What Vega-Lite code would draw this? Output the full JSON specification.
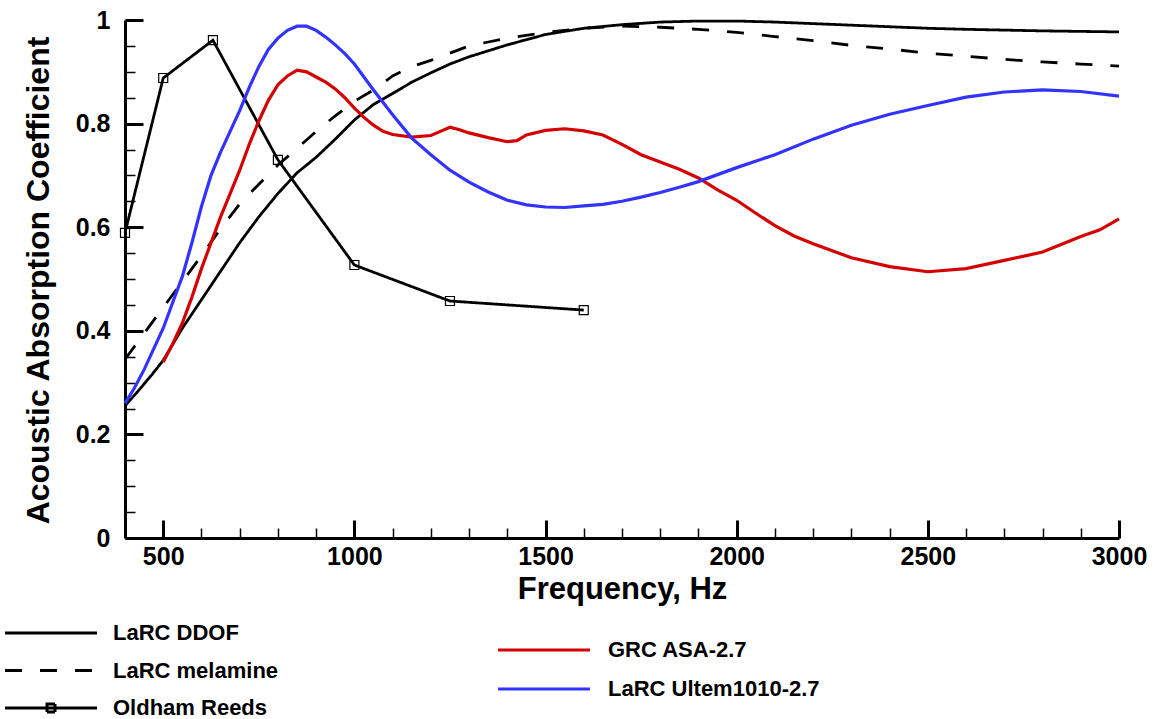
{
  "$schema": "https://vega.github.io/schema/vega-lite/v6.json",
  "width": 994,
  "height": 518,
  "autosize": {"type": "none"},
  "padding": {"left": 125, "top": 20, "right": 43, "bottom": 181},
  "background": "white",
  "config": {
    "view": {"stroke": null},
    "font": "Liberation Sans",
    "legend": {
      "orient": "none",
      "direction": "vertical",
      "padding": 0,
      "symbolSize": 4,
      "symbolStrokeWidth": 3,
      "labelFont": "Liberation Sans",
      "labelFontSize": 22,
      "labelFontWeight": "bold",
      "labelColor": "black",
      "labelLimit": 400
    }
  },
  "data": {
    "values": [
      {"series": "LaRC DDOF", "freq": 400, "alpha": 0.255},
      {"series": "LaRC DDOF", "freq": 430, "alpha": 0.28},
      {"series": "LaRC DDOF", "freq": 470, "alpha": 0.315},
      {"series": "LaRC DDOF", "freq": 500, "alpha": 0.343},
      {"series": "LaRC DDOF", "freq": 550, "alpha": 0.405},
      {"series": "LaRC DDOF", "freq": 600, "alpha": 0.46},
      {"series": "LaRC DDOF", "freq": 650, "alpha": 0.515},
      {"series": "LaRC DDOF", "freq": 700, "alpha": 0.57},
      {"series": "LaRC DDOF", "freq": 750, "alpha": 0.62},
      {"series": "LaRC DDOF", "freq": 800, "alpha": 0.665},
      {"series": "LaRC DDOF", "freq": 850, "alpha": 0.705},
      {"series": "LaRC DDOF", "freq": 900, "alpha": 0.735},
      {"series": "LaRC DDOF", "freq": 950, "alpha": 0.77},
      {"series": "LaRC DDOF", "freq": 1000, "alpha": 0.807},
      {"series": "LaRC DDOF", "freq": 1050, "alpha": 0.837},
      {"series": "LaRC DDOF", "freq": 1100, "alpha": 0.858},
      {"series": "LaRC DDOF", "freq": 1150, "alpha": 0.88},
      {"series": "LaRC DDOF", "freq": 1200, "alpha": 0.898},
      {"series": "LaRC DDOF", "freq": 1250, "alpha": 0.915},
      {"series": "LaRC DDOF", "freq": 1300, "alpha": 0.929},
      {"series": "LaRC DDOF", "freq": 1400, "alpha": 0.952},
      {"series": "LaRC DDOF", "freq": 1500, "alpha": 0.972},
      {"series": "LaRC DDOF", "freq": 1600, "alpha": 0.984},
      {"series": "LaRC DDOF", "freq": 1700, "alpha": 0.991},
      {"series": "LaRC DDOF", "freq": 1800, "alpha": 0.996},
      {"series": "LaRC DDOF", "freq": 1900, "alpha": 0.998},
      {"series": "LaRC DDOF", "freq": 2000, "alpha": 0.998},
      {"series": "LaRC DDOF", "freq": 2100, "alpha": 0.996},
      {"series": "LaRC DDOF", "freq": 2200, "alpha": 0.993},
      {"series": "LaRC DDOF", "freq": 2300, "alpha": 0.99},
      {"series": "LaRC DDOF", "freq": 2400, "alpha": 0.987},
      {"series": "LaRC DDOF", "freq": 2500, "alpha": 0.984},
      {"series": "LaRC DDOF", "freq": 2600, "alpha": 0.982},
      {"series": "LaRC DDOF", "freq": 2800, "alpha": 0.979},
      {"series": "LaRC DDOF", "freq": 3000, "alpha": 0.977},
      {"series": "LaRC melamine", "freq": 400, "alpha": 0.345},
      {"series": "LaRC melamine", "freq": 450, "alpha": 0.395},
      {"series": "LaRC melamine", "freq": 500, "alpha": 0.445},
      {"series": "LaRC melamine", "freq": 550, "alpha": 0.495},
      {"series": "LaRC melamine", "freq": 600, "alpha": 0.545},
      {"series": "LaRC melamine", "freq": 650, "alpha": 0.597},
      {"series": "LaRC melamine", "freq": 700, "alpha": 0.645},
      {"series": "LaRC melamine", "freq": 750, "alpha": 0.683},
      {"series": "LaRC melamine", "freq": 800, "alpha": 0.72},
      {"series": "LaRC melamine", "freq": 850, "alpha": 0.752},
      {"series": "LaRC melamine", "freq": 900, "alpha": 0.785},
      {"series": "LaRC melamine", "freq": 950, "alpha": 0.815},
      {"series": "LaRC melamine", "freq": 1000, "alpha": 0.843},
      {"series": "LaRC melamine", "freq": 1050, "alpha": 0.865},
      {"series": "LaRC melamine", "freq": 1100, "alpha": 0.892},
      {"series": "LaRC melamine", "freq": 1150, "alpha": 0.91},
      {"series": "LaRC melamine", "freq": 1200, "alpha": 0.922},
      {"series": "LaRC melamine", "freq": 1300, "alpha": 0.95},
      {"series": "LaRC melamine", "freq": 1400, "alpha": 0.965},
      {"series": "LaRC melamine", "freq": 1500, "alpha": 0.976},
      {"series": "LaRC melamine", "freq": 1600, "alpha": 0.984},
      {"series": "LaRC melamine", "freq": 1700, "alpha": 0.988},
      {"series": "LaRC melamine", "freq": 1800, "alpha": 0.986},
      {"series": "LaRC melamine", "freq": 1900, "alpha": 0.982},
      {"series": "LaRC melamine", "freq": 2000, "alpha": 0.976},
      {"series": "LaRC melamine", "freq": 2100, "alpha": 0.968},
      {"series": "LaRC melamine", "freq": 2200, "alpha": 0.96},
      {"series": "LaRC melamine", "freq": 2300, "alpha": 0.951},
      {"series": "LaRC melamine", "freq": 2400, "alpha": 0.944},
      {"series": "LaRC melamine", "freq": 2500, "alpha": 0.936},
      {"series": "LaRC melamine", "freq": 2600, "alpha": 0.93},
      {"series": "LaRC melamine", "freq": 2700, "alpha": 0.924},
      {"series": "LaRC melamine", "freq": 2800, "alpha": 0.919},
      {"series": "LaRC melamine", "freq": 2900, "alpha": 0.915},
      {"series": "LaRC melamine", "freq": 3000, "alpha": 0.911},
      {"series": "Oldham Reeds", "freq": 400, "alpha": 0.589},
      {"series": "Oldham Reeds", "freq": 500, "alpha": 0.888},
      {"series": "Oldham Reeds", "freq": 630, "alpha": 0.961},
      {"series": "Oldham Reeds", "freq": 800, "alpha": 0.73},
      {"series": "Oldham Reeds", "freq": 1000, "alpha": 0.527},
      {"series": "Oldham Reeds", "freq": 1250, "alpha": 0.4575},
      {"series": "Oldham Reeds", "freq": 1600, "alpha": 0.44},
      {"series": "GRC ASA-2.7", "freq": 500, "alpha": 0.34},
      {"series": "GRC ASA-2.7", "freq": 525, "alpha": 0.375},
      {"series": "GRC ASA-2.7", "freq": 550, "alpha": 0.415},
      {"series": "GRC ASA-2.7", "freq": 575, "alpha": 0.465},
      {"series": "GRC ASA-2.7", "freq": 600, "alpha": 0.52},
      {"series": "GRC ASA-2.7", "freq": 625, "alpha": 0.57},
      {"series": "GRC ASA-2.7", "freq": 650, "alpha": 0.62},
      {"series": "GRC ASA-2.7", "freq": 675, "alpha": 0.665},
      {"series": "GRC ASA-2.7", "freq": 700, "alpha": 0.71},
      {"series": "GRC ASA-2.7", "freq": 725, "alpha": 0.76},
      {"series": "GRC ASA-2.7", "freq": 750, "alpha": 0.805},
      {"series": "GRC ASA-2.7", "freq": 775, "alpha": 0.845},
      {"series": "GRC ASA-2.7", "freq": 800, "alpha": 0.875},
      {"series": "GRC ASA-2.7", "freq": 825, "alpha": 0.892},
      {"series": "GRC ASA-2.7", "freq": 850, "alpha": 0.903},
      {"series": "GRC ASA-2.7", "freq": 875, "alpha": 0.9},
      {"series": "GRC ASA-2.7", "freq": 900, "alpha": 0.89},
      {"series": "GRC ASA-2.7", "freq": 925, "alpha": 0.88},
      {"series": "GRC ASA-2.7", "freq": 950, "alpha": 0.867},
      {"series": "GRC ASA-2.7", "freq": 975, "alpha": 0.85},
      {"series": "GRC ASA-2.7", "freq": 1000, "alpha": 0.83},
      {"series": "GRC ASA-2.7", "freq": 1025, "alpha": 0.812},
      {"series": "GRC ASA-2.7", "freq": 1050, "alpha": 0.797},
      {"series": "GRC ASA-2.7", "freq": 1075, "alpha": 0.785},
      {"series": "GRC ASA-2.7", "freq": 1100, "alpha": 0.779},
      {"series": "GRC ASA-2.7", "freq": 1150, "alpha": 0.774},
      {"series": "GRC ASA-2.7", "freq": 1200, "alpha": 0.777},
      {"series": "GRC ASA-2.7", "freq": 1225, "alpha": 0.785},
      {"series": "GRC ASA-2.7", "freq": 1250, "alpha": 0.793},
      {"series": "GRC ASA-2.7", "freq": 1275, "alpha": 0.788},
      {"series": "GRC ASA-2.7", "freq": 1300, "alpha": 0.782},
      {"series": "GRC ASA-2.7", "freq": 1350, "alpha": 0.773},
      {"series": "GRC ASA-2.7", "freq": 1400, "alpha": 0.765},
      {"series": "GRC ASA-2.7", "freq": 1425, "alpha": 0.767},
      {"series": "GRC ASA-2.7", "freq": 1450, "alpha": 0.778},
      {"series": "GRC ASA-2.7", "freq": 1500, "alpha": 0.787},
      {"series": "GRC ASA-2.7", "freq": 1550, "alpha": 0.79},
      {"series": "GRC ASA-2.7", "freq": 1600, "alpha": 0.786},
      {"series": "GRC ASA-2.7", "freq": 1650, "alpha": 0.778},
      {"series": "GRC ASA-2.7", "freq": 1700, "alpha": 0.76},
      {"series": "GRC ASA-2.7", "freq": 1750, "alpha": 0.74},
      {"series": "GRC ASA-2.7", "freq": 1800, "alpha": 0.726},
      {"series": "GRC ASA-2.7", "freq": 1850, "alpha": 0.712},
      {"series": "GRC ASA-2.7", "freq": 1900, "alpha": 0.695},
      {"series": "GRC ASA-2.7", "freq": 1950, "alpha": 0.672},
      {"series": "GRC ASA-2.7", "freq": 2000, "alpha": 0.652},
      {"series": "GRC ASA-2.7", "freq": 2050, "alpha": 0.627},
      {"series": "GRC ASA-2.7", "freq": 2100, "alpha": 0.603},
      {"series": "GRC ASA-2.7", "freq": 2150, "alpha": 0.583},
      {"series": "GRC ASA-2.7", "freq": 2200, "alpha": 0.568},
      {"series": "GRC ASA-2.7", "freq": 2300, "alpha": 0.541},
      {"series": "GRC ASA-2.7", "freq": 2400, "alpha": 0.524},
      {"series": "GRC ASA-2.7", "freq": 2500, "alpha": 0.514},
      {"series": "GRC ASA-2.7", "freq": 2600, "alpha": 0.52},
      {"series": "GRC ASA-2.7", "freq": 2700, "alpha": 0.536},
      {"series": "GRC ASA-2.7", "freq": 2800, "alpha": 0.552},
      {"series": "GRC ASA-2.7", "freq": 2900, "alpha": 0.582},
      {"series": "GRC ASA-2.7", "freq": 2950, "alpha": 0.595},
      {"series": "GRC ASA-2.7", "freq": 3000, "alpha": 0.616},
      {"series": "LaRC Ultem1010-2.7", "freq": 400, "alpha": 0.26},
      {"series": "LaRC Ultem1010-2.7", "freq": 425, "alpha": 0.29},
      {"series": "LaRC Ultem1010-2.7", "freq": 450, "alpha": 0.325},
      {"series": "LaRC Ultem1010-2.7", "freq": 475, "alpha": 0.365},
      {"series": "LaRC Ultem1010-2.7", "freq": 500, "alpha": 0.405},
      {"series": "LaRC Ultem1010-2.7", "freq": 525, "alpha": 0.455},
      {"series": "LaRC Ultem1010-2.7", "freq": 550, "alpha": 0.505},
      {"series": "LaRC Ultem1010-2.7", "freq": 575, "alpha": 0.57},
      {"series": "LaRC Ultem1010-2.7", "freq": 600, "alpha": 0.64},
      {"series": "LaRC Ultem1010-2.7", "freq": 625, "alpha": 0.7},
      {"series": "LaRC Ultem1010-2.7", "freq": 650, "alpha": 0.745},
      {"series": "LaRC Ultem1010-2.7", "freq": 675, "alpha": 0.785},
      {"series": "LaRC Ultem1010-2.7", "freq": 700, "alpha": 0.825},
      {"series": "LaRC Ultem1010-2.7", "freq": 725, "alpha": 0.87},
      {"series": "LaRC Ultem1010-2.7", "freq": 750, "alpha": 0.91},
      {"series": "LaRC Ultem1010-2.7", "freq": 775, "alpha": 0.943},
      {"series": "LaRC Ultem1010-2.7", "freq": 800, "alpha": 0.965},
      {"series": "LaRC Ultem1010-2.7", "freq": 825, "alpha": 0.98},
      {"series": "LaRC Ultem1010-2.7", "freq": 850, "alpha": 0.988},
      {"series": "LaRC Ultem1010-2.7", "freq": 875, "alpha": 0.988},
      {"series": "LaRC Ultem1010-2.7", "freq": 900, "alpha": 0.98},
      {"series": "LaRC Ultem1010-2.7", "freq": 925, "alpha": 0.967},
      {"series": "LaRC Ultem1010-2.7", "freq": 950, "alpha": 0.952},
      {"series": "LaRC Ultem1010-2.7", "freq": 975, "alpha": 0.935},
      {"series": "LaRC Ultem1010-2.7", "freq": 1000, "alpha": 0.915},
      {"series": "LaRC Ultem1010-2.7", "freq": 1050, "alpha": 0.865},
      {"series": "LaRC Ultem1010-2.7", "freq": 1100, "alpha": 0.817},
      {"series": "LaRC Ultem1010-2.7", "freq": 1150, "alpha": 0.772},
      {"series": "LaRC Ultem1010-2.7", "freq": 1200, "alpha": 0.74},
      {"series": "LaRC Ultem1010-2.7", "freq": 1250, "alpha": 0.71},
      {"series": "LaRC Ultem1010-2.7", "freq": 1300, "alpha": 0.687},
      {"series": "LaRC Ultem1010-2.7", "freq": 1350, "alpha": 0.668},
      {"series": "LaRC Ultem1010-2.7", "freq": 1400, "alpha": 0.652},
      {"series": "LaRC Ultem1010-2.7", "freq": 1450, "alpha": 0.643},
      {"series": "LaRC Ultem1010-2.7", "freq": 1500, "alpha": 0.639},
      {"series": "LaRC Ultem1010-2.7", "freq": 1550, "alpha": 0.638},
      {"series": "LaRC Ultem1010-2.7", "freq": 1600, "alpha": 0.641},
      {"series": "LaRC Ultem1010-2.7", "freq": 1650, "alpha": 0.644},
      {"series": "LaRC Ultem1010-2.7", "freq": 1700, "alpha": 0.65},
      {"series": "LaRC Ultem1010-2.7", "freq": 1750, "alpha": 0.658},
      {"series": "LaRC Ultem1010-2.7", "freq": 1800, "alpha": 0.667},
      {"series": "LaRC Ultem1010-2.7", "freq": 1850, "alpha": 0.677},
      {"series": "LaRC Ultem1010-2.7", "freq": 1900, "alpha": 0.688},
      {"series": "LaRC Ultem1010-2.7", "freq": 2000, "alpha": 0.715},
      {"series": "LaRC Ultem1010-2.7", "freq": 2100, "alpha": 0.74},
      {"series": "LaRC Ultem1010-2.7", "freq": 2200, "alpha": 0.77},
      {"series": "LaRC Ultem1010-2.7", "freq": 2300, "alpha": 0.797},
      {"series": "LaRC Ultem1010-2.7", "freq": 2400, "alpha": 0.818},
      {"series": "LaRC Ultem1010-2.7", "freq": 2500, "alpha": 0.835},
      {"series": "LaRC Ultem1010-2.7", "freq": 2600, "alpha": 0.851},
      {"series": "LaRC Ultem1010-2.7", "freq": 2700, "alpha": 0.861},
      {"series": "LaRC Ultem1010-2.7", "freq": 2800, "alpha": 0.865},
      {"series": "LaRC Ultem1010-2.7", "freq": 2900, "alpha": 0.862},
      {"series": "LaRC Ultem1010-2.7", "freq": 3000, "alpha": 0.853}
    ]
  },
  "encoding": {
    "x": {
      "field": "freq",
      "type": "quantitative",
      "scale": {"domain": [400, 3000], "nice": false, "zero": false},
      "axis": {
        "title": "Frequency, Hz",
        "values": [500, 600, 700, 800, 900, 1000, 1100, 1200, 1300, 1400, 1500, 1600, 1700, 1800, 1900, 2000, 2100, 2200, 2300, 2400, 2500, 2600, 2700, 2800, 2900, 3000],
        "labelExpr": "datum.value % 500 == 0 ? '' + datum.value : ''",
        "grid": false,
        "domainColor": "black",
        "domainWidth": 3,
        "tickColor": "black",
        "tickSize": {"condition": {"test": "datum.value % 500 == 0", "value": -18}, "value": -10},
        "tickWidth": {"condition": {"test": "datum.value % 500 == 0", "value": 3}, "value": 1.5},
        "labelFlush": false,
        "labelOverlap": false,
        "labelFont": "Liberation Sans",
        "labelFontSize": 25,
        "labelFontWeight": "bold",
        "labelColor": "black",
        "labelPadding": 24,
        "titleFont": "Liberation Sans",
        "titleFontSize": 31,
        "titleFontWeight": "bold",
        "titleColor": "black",
        "titleX": 497,
        "titleY": 60,
        "titleAlign": "center",
        "titleBaseline": "alphabetic"
      }
    },
    "y": {
      "field": "alpha",
      "type": "quantitative",
      "scale": {"domain": [0, 1], "nice": false},
      "axis": {
        "title": "Acoustic Absorption Coefficient",
        "values": [0, 0.05, 0.1, 0.15, 0.2, 0.25, 0.3, 0.35, 0.4, 0.45, 0.5, 0.55, 0.6, 0.65, 0.7, 0.75, 0.8, 0.85, 0.9, 0.95, 1],
        "labelExpr": "round(datum.value * 100) % 20 == 0 ? (datum.value == 0 ? '0' : datum.value == 1 ? '1' : format(datum.value, '.1f')) : ''",
        "grid": false,
        "domainColor": "black",
        "domainWidth": 3,
        "tickColor": "black",
        "tickSize": {"condition": {"test": "round(datum.value * 100) % 20 == 0", "value": -18}, "value": -10},
        "tickWidth": {"condition": {"test": "round(datum.value * 100) % 20 == 0", "value": 3}, "value": 1.5},
        "labelOverlap": false,
        "labelFlush": false,
        "labelFont": "Liberation Sans",
        "labelFontSize": 25,
        "labelFontWeight": "bold",
        "labelColor": "black",
        "labelPadding": 33,
        "titleFont": "Liberation Sans",
        "titleFontSize": 32,
        "titleFontWeight": "bold",
        "titleColor": "black",
        "titleX": -77,
        "titleY": 260,
        "titleAngle": -90,
        "titleAlign": "center",
        "titleBaseline": "alphabetic"
      }
    }
  },
  "layer": [
    {
      "transform": [{"filter": "datum.series == 'LaRC DDOF' || datum.series == 'LaRC melamine' || datum.series == 'Oldham Reeds'"}],
      "mark": {"type": "line", "color": "black", "strokeWidth": 2.8},
      "encoding": {
        "strokeDash": {
          "field": "series",
          "type": "nominal",
          "scale": {"domain": ["LaRC DDOF", "LaRC melamine", "Oldham Reeds"], "range": [[1, 0], [17, 18], [1, 0]]},
          "legend": {
            "title": null,
            "legendX": -120,
            "legendY": 602,
            "rowPadding": 15.5,
            "labelOffset": 86,
            "symbolStrokeColor": "black",
            "encode": {
              "symbols": {
                "update": {
                  "shape": [
                    {"test": "datum.value === 'Oldham Reeds'", "value": "M-11,0H81M31,-4H39V4H31Z"},
                    {"value": "M-11,0H81"}
                  ],
                  "fill": {"value": "transparent"},
                  "stroke": {"value": "black"}
                }
              }
            }
          }
        }
      }
    },
    {
      "transform": [{"filter": "datum.series == 'Oldham Reeds'"}],
      "mark": {"type": "point", "shape": "square", "filled": false, "color": "black", "strokeWidth": 1.2, "size": 81, "opacity": 1}
    },
    {
      "transform": [{"filter": "datum.series == 'GRC ASA-2.7' || datum.series == 'LaRC Ultem1010-2.7'"}],
      "mark": {"type": "line", "strokeWidth": 3.2},
      "encoding": {
        "color": {
          "field": "series",
          "type": "nominal",
          "scale": {"domain": ["GRC ASA-2.7", "LaRC Ultem1010-2.7"], "range": ["#d40000", "#3333ff"]},
          "legend": {
            "title": null,
            "legendX": 373,
            "legendY": 619,
            "rowPadding": 17,
            "labelOffset": 88,
            "symbolType": "M-11,0H81"
          }
        }
      }
    }
  ]
}
